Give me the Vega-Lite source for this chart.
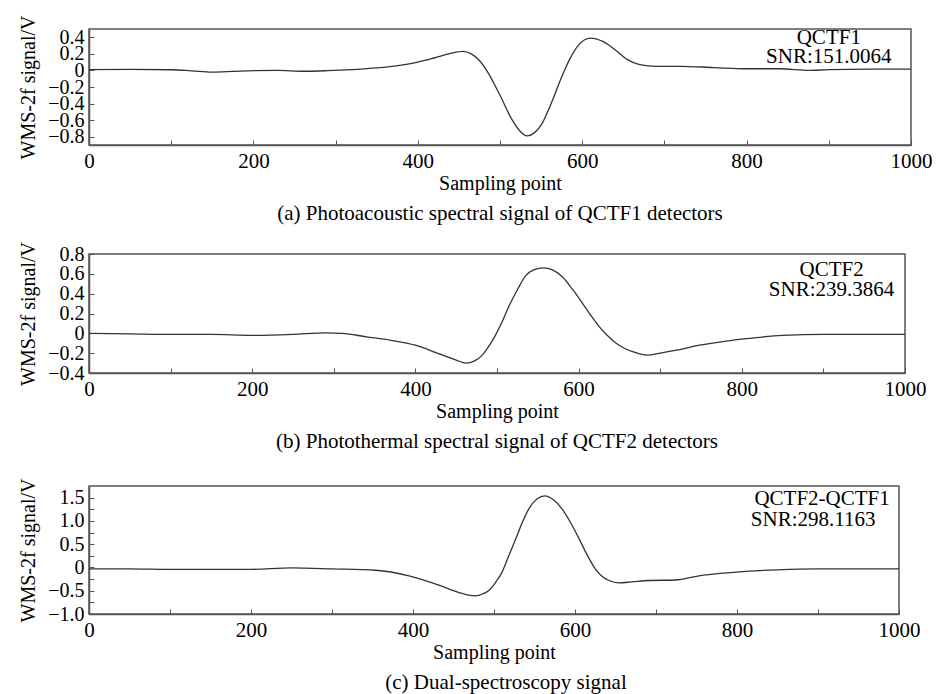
{
  "$schema": "https://vega.github.io/schema/vega-lite/v6.json",
  "padding": {"left": 17, "top": 14, "right": 0, "bottom": 0},
  "background": "white",
  "bounds": "flush",
  "spacing": 109,
  "datasets": {
    "a": [
      {"s":0,"v":0.01},{"s":50,"v":0.012},{"s":100,"v":0.008},{"s":125,"v":-0.005},{"s":150,"v":-0.02},{"s":175,"v":-0.012},{"s":200,"v":-0.002},{"s":230,"v":0.0},{"s":260,"v":-0.01},{"s":290,"v":-0.003},{"s":320,"v":0.01},{"s":350,"v":0.03},{"s":380,"v":0.065},{"s":400,"v":0.1},{"s":420,"v":0.15},{"s":440,"v":0.205},{"s":455,"v":0.23},{"s":465,"v":0.2},{"s":475,"v":0.12},{"s":485,"v":-0.02},{"s":500,"v":-0.3},{"s":515,"v":-0.6},{"s":525,"v":-0.74},{"s":533,"v":-0.79},{"s":541,"v":-0.76},{"s":550,"v":-0.66},{"s":563,"v":-0.38},{"s":575,"v":-0.08},{"s":585,"v":0.14},{"s":595,"v":0.3},{"s":610,"v":0.39},{"s":625,"v":0.35},{"s":640,"v":0.25},{"s":655,"v":0.13},{"s":670,"v":0.07},{"s":690,"v":0.05},{"s":720,"v":0.05},{"s":760,"v":0.035},{"s":800,"v":0.02},{"s":840,"v":0.02},{"s":876,"v":0.0},{"s":900,"v":0.01},{"s":950,"v":0.015},{"s":1000,"v":0.015}
    ],
    "b": [
      {"s":0,"v":0.0},{"s":50,"v":-0.005},{"s":100,"v":-0.01},{"s":150,"v":-0.01},{"s":200,"v":-0.02},{"s":250,"v":-0.01},{"s":290,"v":0.005},{"s":310,"v":0.0},{"s":340,"v":-0.035},{"s":370,"v":-0.07},{"s":400,"v":-0.12},{"s":430,"v":-0.21},{"s":450,"v":-0.27},{"s":462,"v":-0.3},{"s":472,"v":-0.28},{"s":482,"v":-0.22},{"s":490,"v":-0.13},{"s":498,"v":-0.02},{"s":507,"v":0.13},{"s":515,"v":0.28},{"s":525,"v":0.44},{"s":535,"v":0.58},{"s":545,"v":0.64},{"s":557,"v":0.66},{"s":568,"v":0.64},{"s":580,"v":0.57},{"s":592,"v":0.45},{"s":605,"v":0.3},{"s":615,"v":0.18},{"s":625,"v":0.07},{"s":635,"v":-0.02},{"s":646,"v":-0.1},{"s":656,"v":-0.15},{"s":668,"v":-0.19},{"s":684,"v":-0.22},{"s":700,"v":-0.2},{"s":720,"v":-0.17},{"s":748,"v":-0.12},{"s":788,"v":-0.07},{"s":810,"v":-0.05},{"s":850,"v":-0.02},{"s":900,"v":-0.01},{"s":950,"v":-0.01},{"s":1000,"v":-0.01}
    ],
    "c": [
      {"s":0,"v":-0.03},{"s":50,"v":-0.03},{"s":100,"v":-0.04},{"s":150,"v":-0.04},{"s":200,"v":-0.04},{"s":250,"v":-0.01},{"s":300,"v":-0.03},{"s":354,"v":-0.06},{"s":395,"v":-0.18},{"s":432,"v":-0.38},{"s":457,"v":-0.54},{"s":470,"v":-0.6},{"s":477,"v":-0.61},{"s":486,"v":-0.57},{"s":494,"v":-0.49},{"s":502,"v":-0.32},{"s":510,"v":-0.1},{"s":518,"v":0.24},{"s":527,"v":0.62},{"s":535,"v":0.97},{"s":543,"v":1.26},{"s":553,"v":1.47},{"s":563,"v":1.54},{"s":573,"v":1.46},{"s":584,"v":1.26},{"s":595,"v":0.95},{"s":605,"v":0.62},{"s":615,"v":0.27},{"s":625,"v":-0.03},{"s":634,"v":-0.2},{"s":642,"v":-0.28},{"s":654,"v":-0.33},{"s":670,"v":-0.31},{"s":691,"v":-0.28},{"s":724,"v":-0.27},{"s":753,"v":-0.18},{"s":785,"v":-0.12},{"s":815,"v":-0.08},{"s":850,"v":-0.05},{"s":900,"v":-0.03},{"s":950,"v":-0.03},{"s":1000,"v":-0.03}
    ],
    "ta": [{"s":900,"v":0.39,"t":"QCTF1"},{"s":900,"v":0.16,"t":"SNR:151.0064"}],
    "tb": [{"s":910,"v":0.64,"t":"QCTF2"},{"s":910,"v":0.44,"t":"SNR:239.3864"}],
    "tc": [{"s":905,"v":1.46,"t":"QCTF2-QCTF1"},{"s":894,"v":1.02,"t":"SNR:298.1163"}]
  },
  "vconcat": [
    {
      "width": 822, "height": 116,
      "title": {"text": "(a) Photoacoustic spectral signal of QCTF1 detectors", "orient": "bottom", "offset": 10},
      "encoding": {
        "x": {"field": "s", "type": "quantitative", "scale": {"domain": [0, 1000], "nice": false},
              "axis": {"values": [0,100,200,300,400,500,600,700,800,900,1000], "labelExpr": "datum.value % 200 == 0 ? format(datum.value, 'd') : ''", "title": "Sampling point", "labelOverlap": false, "labelBound": false, "labelFlush": false}},
        "y": {"field": "v", "type": "quantitative", "scale": {"domain": [-0.9, 0.5], "nice": false, "zero": false},
              "axis": {"values": [-0.8,-0.6,-0.4,-0.2,0,0.2,0.4], "labelExpr": "datum.value == 0 ? '0' : format(datum.value, '.1f')", "title": "WMS-2f signal/V", "labelOverlap": false, "labelSeparation": -12, "labelBound": false, "labelFlush": false}}
      },
      "layer": [
        {
          "data": {"name": "a"},
          "mark": {"type": "line", "color": "#333", "strokeWidth": 1.3, "interpolate": "monotone"}
        },
        {
          "data": {"name": "ta"},
          "mark": {"type": "text", "font": "Liberation Serif", "fontSize": 21, "align": "center", "baseline": "middle", "color": "#000"},
          "encoding": {"text": {"field": "t"}}
        }
      ]
    },
    {
      "bounds": "flush",
      "spacing": 113,
      "vconcat": [
        {
          "width": 816, "height": 119,
          "title": {"text": "(b) Photothermal spectral signal of QCTF2 detectors", "orient": "bottom", "offset": 10},
          "encoding": {
            "x": {"field": "s", "type": "quantitative", "scale": {"domain": [0, 1000], "nice": false},
                  "axis": {"values": [0,100,200,300,400,500,600,700,800,900,1000], "labelExpr": "datum.value % 200 == 0 ? format(datum.value, 'd') : ''", "title": "Sampling point", "labelOverlap": false, "labelBound": false, "labelFlush": false}},
            "y": {"field": "v", "type": "quantitative", "scale": {"domain": [-0.4, 0.8], "nice": false, "zero": false},
                  "axis": {"values": [-0.4,-0.2,0,0.2,0.4,0.6,0.8], "labelExpr": "datum.value == 0 ? '0' : format(datum.value, '.1f')", "title": "WMS-2f signal/V", "labelOverlap": false, "labelSeparation": -12, "labelBound": false, "labelFlush": false}}
          },
          "layer": [
            {
              "data": {"name": "b"},
              "mark": {"type": "line", "color": "#333", "strokeWidth": 1.3, "interpolate": "monotone"}
            },
            {
              "data": {"name": "tb"},
              "mark": {"type": "text", "font": "Liberation Serif", "fontSize": 21, "align": "center", "baseline": "middle", "color": "#000"},
              "encoding": {"text": {"field": "t"}}
            }
          ]
        },
        {
          "width": 810, "height": 128,
          "title": {"text": "(c) Dual-spectroscopy signal", "orient": "bottom", "offset": 10, "dx": 12},
          "encoding": {
            "x": {"field": "s", "type": "quantitative", "scale": {"domain": [0, 1000], "nice": false},
                  "axis": {"values": [0,100,200,300,400,500,600,700,800,900,1000], "labelExpr": "datum.value % 200 == 0 ? format(datum.value, 'd') : ''", "title": "Sampling point", "labelOverlap": false, "labelBound": false, "labelFlush": false}},
            "y": {"field": "v", "type": "quantitative", "scale": {"domain": [-1.0, 1.75], "nice": false, "zero": false},
                  "axis": {"values": [-1.0,-0.75,-0.5,-0.25,0,0.25,0.5,0.75,1.0,1.25,1.5], "labelExpr": "datum.value * 2 % 1 != 0 ? '' : (datum.value == 0 ? '0' : format(datum.value, '.1f'))", "title": "WMS-2f signal/V", "labelOverlap": false, "labelSeparation": -12, "labelBound": false, "labelFlush": false}}
          },
          "layer": [
            {
              "data": {"name": "c"},
              "mark": {"type": "line", "color": "#333", "strokeWidth": 1.3, "interpolate": "monotone"}
            },
            {
              "data": {"name": "tc"},
              "mark": {"type": "text", "font": "Liberation Serif", "fontSize": 21, "align": "center", "baseline": "middle", "color": "#000"},
              "encoding": {"text": {"field": "t"}}
            }
          ]
        }
      ]
    }
  ],
  "config": {
    "view": {"stroke": "#555", "strokeWidth": 1.5},
    "axis": {
      "labelFont": "Liberation Serif", "labelFontSize": 21, "labelColor": "#000",
      "titleFont": "Liberation Serif", "titleFontSize": 20, "titleFontWeight": "normal", "titleColor": "#000",
      "domainColor": "#555", "domainWidth": 1.5, "tickColor": "#555", "tickWidth": 1, "tickSize": -5,
      "grid": false, "labelOverlap": false
    },
    "axisX": {"labelPadding": 10, "titlePadding": 2},
    "axisY": {"labelPadding": 10, "titlePadding": 9, "labelFontSize": 20},
    "title": {"font": "Liberation Serif", "fontSize": 21, "fontWeight": "normal", "color": "#000"}
  }
}
